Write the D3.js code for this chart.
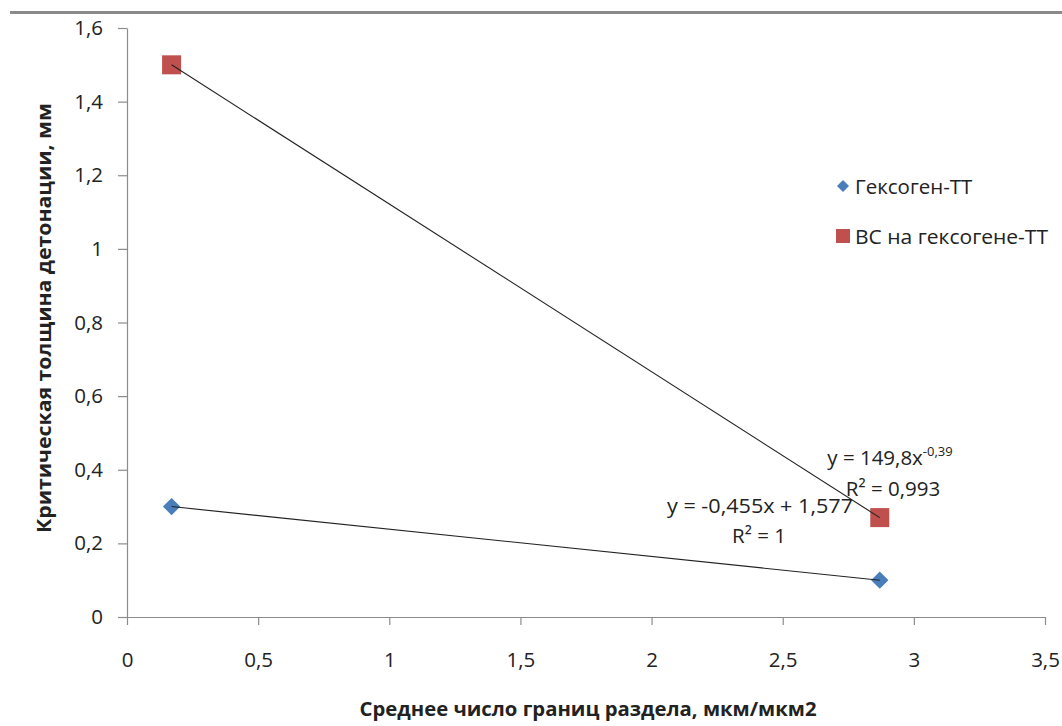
<!DOCTYPE html>
<html>
<head>
  <meta charset="UTF-8" />
  <title>Критическая толщина детонации</title>
  <script src="https://d3js.org/d3.v7.min.js"></script>
  <style>
    body { margin: 0; background: #fff; }
    svg text { font-family: "Open Sans", "DejaVu Sans", sans-serif; fill: #222; }
  </style>
</head>
<body>
<div id="chart"></div>

<script>
  // data
  var seriesNames = ["Гексоген-ТТ", "ВС на гексогене-ТТ"];
  var xValues = [0.17, 2.87];
  var hexogenValues = [0.3, 0.1];
  var bcValues = [1.5, 0.27];
  var xTicks = [0, 0.5, 1, 1.5, 2, 2.5, 3, 3.5];
  var yTicks = [0, 0.2, 0.4, 0.6, 0.8, 1, 1.2, 1.4, 1.6];
  var eqHexogen = ["y = -0,455x + 1,577", "R² = 1"];
  var eqBC = ["y = 149,8x", "-0,39", "R² = 0,993"];

  var width = 1062, height = 726;
  var svg = d3.select("#chart")
    .append("svg")
    .attr("width", width)
    .attr("height", height);

  // gray rule at the top
  svg.append("rect")
    .attr("x", 10).attr("y", 11)
    .attr("width", width - 10).attr("height", 3)
    .attr("fill", "#8a8a8a");

  var xScale = d3.scaleLinear().domain([0, 3.5]).range([127, 1045]);
  var yScale = d3.scaleLinear().domain([0, 1.6]).range([617, 28]);

  var fmt = function (d) { return String(d).replace(".", ","); };

  var xAxis = d3.axisBottom(xScale).tickValues(xTicks).tickFormat(fmt)
    .tickSize(8).tickSizeOuter(0).tickPadding(27);
  var yAxis = d3.axisLeft(yScale).tickValues(yTicks).tickFormat(fmt)
    .tickSize(9).tickSizeOuter(0).tickPadding(15);

  var gx = svg.append("g")
    .attr("transform", "translate(0," + yScale(0) + ")")
    .call(xAxis);
  var gy = svg.append("g")
    .attr("transform", "translate(" + xScale(0) + ",0)")
    .call(yAxis);

  [gx, gy].forEach(function (g) {
    g.selectAll("path, line").attr("stroke", "#8c8c8c").attr("stroke-width", 1.2);
    g.selectAll("text").style("font-size", "20.5px").attr("fill", "#222");
  });

  // trend lines
  var line = d3.line().x(d => xScale(d[0])).y(d => yScale(d[1]));
  var hexPts = xValues.map((x, i) => [x, hexogenValues[i]]);
  var bcPts = xValues.map((x, i) => [x, bcValues[i]]);

  // markers
  var diamond = d3.symbol().type(d3.symbolSquare).size(150);
  svg.selectAll(".hex").data(hexPts).enter().append("path")
    .attr("class", "hex")
    .attr("d", diamond)
    .attr("transform", d => "translate(" + xScale(d[0]) + "," + yScale(d[1]) + ") rotate(45)")
    .attr("fill", "#4a7ebb");

  var sq = 19;
  svg.selectAll(".bc").data(bcPts).enter().append("rect")
    .attr("class", "bc")
    .attr("x", d => xScale(d[0]) - sq / 2)
    .attr("y", d => yScale(d[1]) - sq / 2)
    .attr("width", sq).attr("height", sq)
    .attr("fill", "#c0504d");

  // trend lines drawn over the markers
  svg.append("path").datum(bcPts).attr("d", line)
    .attr("fill", "none").attr("stroke", "#222").attr("stroke-width", 1.1);
  svg.append("path").datum(hexPts).attr("d", line)
    .attr("fill", "none").attr("stroke", "#222").attr("stroke-width", 1.1);

  // trend equations
  var eq1 = svg.append("text").attr("x", 890).attr("y", 465)
    .attr("text-anchor", "middle").style("font-size", "20.5px");
  eq1.append("tspan").text(eqBC[0]);
  eq1.append("tspan").attr("dy", -9).style("font-size", "13px").text(eqBC[1]);
  svg.append("text").attr("x", 893).attr("y", 496)
    .attr("text-anchor", "middle").style("font-size", "20.5px").text(eqBC[2]);

  svg.append("text").attr("x", 760).attr("y", 513)
    .attr("text-anchor", "middle").style("font-size", "20.5px")
    .attr("textLength", 186).attr("lengthAdjust", "spacingAndGlyphs")
    .text(eqHexogen[0]);
  svg.append("text").attr("x", 759).attr("y", 543)
    .attr("text-anchor", "middle").style("font-size", "20.5px").text(eqHexogen[1]);

  // legend
  var legend = svg.append("g");
  legend.append("path")
    .attr("d", d3.symbol().type(d3.symbolSquare).size(72))
    .attr("transform", "translate(843,186) rotate(45)")
    .attr("fill", "#4a7ebb");
  legend.append("text").attr("x", 855).attr("y", 194)
    .style("font-size", "20.5px").text(seriesNames[0]);
  legend.append("rect")
    .attr("x", 836).attr("y", 229).attr("width", 14).attr("height", 14)
    .attr("fill", "#c0504d");
  legend.append("text").attr("x", 855).attr("y", 244)
    .style("font-size", "20.5px")
    .attr("textLength", 193).attr("lengthAdjust", "spacingAndGlyphs")
    .text(seriesNames[1]);

  // axis titles
  svg.append("text")
    .attr("x", 588).attr("y", 716)
    .attr("text-anchor", "middle")
    .style("font-size", "19px").style("font-weight", "bold")
    .attr("textLength", 457).attr("lengthAdjust", "spacingAndGlyphs")
    .text("Среднее число границ раздела, мкм/мкм2");

  svg.append("text")
    .attr("transform", "translate(51,318) rotate(-90)")
    .attr("text-anchor", "middle")
    .style("font-size", "19px").style("font-weight", "bold")
    .attr("textLength", 430).attr("lengthAdjust", "spacingAndGlyphs")
    .text("Критическая толщина детонации, мм");
</script>
</body>
</html>
